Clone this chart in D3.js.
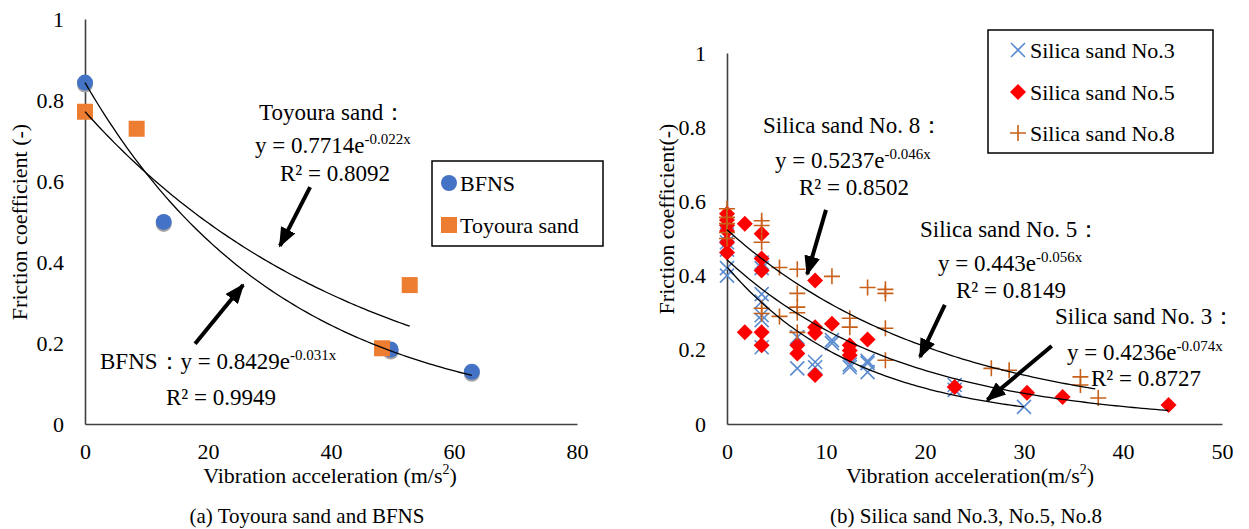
<!DOCTYPE html>
<html>
<head>
<meta charset="utf-8">
<script src="https://cdn.jsdelivr.net/npm/d3@7"></script>
<style>
  body { margin: 0; background: #fff; }
</style>
</head>
<body>
<svg id="chart" width="1249" height="529"></svg>
<script>
// (a) Toyoura sand and BFNS
var bfnsX = [0, 12.8, 49.7, 62.9];
var bfnsY = [0.843, 0.499, 0.184, 0.129];
var toyX = [0, 8.4, 48.3, 52.8];
var toyY = [0.771, 0.729, 0.187, 0.343];
var leftXTicks = [0, 20, 40, 60, 80];

// (b) Silica sand No.3, No.5, No.8
var s3X = [0, 0, 0, 0, 0, 3.5, 3.5, 3.5, 3.5, 3.5, 3.5, 3.5, 7.1, 7.1, 8.9, 8.9, 10.6, 10.6, 12.4, 12.4, 14.2, 14.2, 14.2, 23, 23, 30];
var s3Y = [0.51, 0.49, 0.42, 0.40, 0.47, 0.435, 0.42, 0.35, 0.33, 0.293, 0.28, 0.207, 0.234, 0.15, 0.167, 0.153, 0.226, 0.218, 0.16, 0.153, 0.17, 0.164, 0.14, 0.105, 0.092, 0.046];
var s5X = [0, 0, 0, 0, 0, 0, 1.8, 1.8, 3.5, 3.5, 3.5, 3.5, 3.5, 7.1, 7.1, 8.9, 8.9, 8.9, 8.9, 10.6, 12.4, 12.4, 12.4, 14.2, 23, 30.3, 33.9, 44.6];
var s5Y = [0.567, 0.55, 0.535, 0.52, 0.49, 0.462, 0.54, 0.247, 0.513, 0.446, 0.414, 0.247, 0.212, 0.212, 0.19, 0.387, 0.261, 0.245, 0.132, 0.27, 0.212, 0.198, 0.185, 0.228, 0.10, 0.084, 0.073, 0.051];
var s8X = [0, 0, 0, 0, 0, 3.5, 3.5, 3.5, 3.5, 3.5, 5.3, 5.3, 7.1, 7.1, 7.1, 7.1, 7.1, 10.6, 12.4, 12.4, 14.2, 16, 16, 16, 16, 26.7, 28.5, 35.7, 35.7, 37.5];
var s8Y = [0.58, 0.557, 0.54, 0.516, 0.50, 0.548, 0.535, 0.49, 0.312, 0.298, 0.422, 0.29, 0.417, 0.352, 0.315, 0.30, 0.247, 0.398, 0.285, 0.261, 0.368, 0.363, 0.352, 0.258, 0.172, 0.15, 0.145, 0.127, 0.105, 0.07];
var rightXTicks = [0, 10, 20, 30, 40, 50];

var yTicks = [0, 0.2, 0.4, 0.6, 0.8, 1];

// trend line fits (a*exp(b*x)) and x ranges
var fitBfns = {a: 0.8429, b: -0.031, x0: 0, x1: 62.9};
var fitToy = {a: 0.7714, b: -0.022, x0: 0, x1: 52.8};
var fit3 = {a: 0.4236, b: -0.074, x0: 0, x1: 30};
var fit5 = {a: 0.443, b: -0.056, x0: 0, x1: 44.6};
var fit8 = {a: 0.5237, b: -0.046, x0: 0, x1: 37.2};

var FONT = "'Liberation Serif', 'Times New Roman', Times, serif";

var svg = d3.select("#chart").style("font-family", FONT);
svg.append("rect").attr("width", 1249).attr("height", 529).attr("fill", "#fff");

var defs = svg.append("defs");
defs.append("marker").attr("id", "ahead")
    .attr("markerUnits", "userSpaceOnUse")
    .attr("viewBox", "0 0 20 16").attr("refX", 18).attr("refY", 8)
    .attr("markerWidth", 20).attr("markerHeight", 16)
    .attr("orient", "auto")
  .append("path").attr("d", "M0,0 L20,8 L0,16 Z").attr("fill", "#000");

var xL = d3.scaleLinear().domain([0, 80]).range([85, 577]);
var yL = d3.scaleLinear().domain([0, 1]).range([424, 19]);
var xR = d3.scaleLinear().domain([0, 50]).range([727, 1222]);
var yR = d3.scaleLinear().domain([0, 1]).range([424, 53]);

function drawAxes(x, y, xt) {
    var gx = svg.append("g").attr("transform", "translate(0," + y(0) + ")")
        .call(d3.axisBottom(x).tickValues(xt).tickSize(0).tickPadding(19).tickFormat(function (d) { return d; }));
    var gy = svg.append("g").attr("transform", "translate(" + x(0) + ",0)")
        .call(d3.axisLeft(y).tickValues(yTicks).tickSize(0).tickPadding(21).tickFormat(function (d) { return d; }));
    [gx, gy].forEach(function (g) {
        g.attr("font-family", FONT).attr("font-size", 22);
        g.selectAll("text").style("font-family", FONT).style("font-size", "22px").attr("fill", "#000");
        g.select(".domain").attr("stroke", "#404040").attr("stroke-width", 1.6);
    });
}
drawAxes(xL, yL, leftXTicks);
drawAxes(xR, yR, rightXTicks);

function trend(f, x, y) {
    var pts = d3.range(0, 101).map(function (i) {
        var xv = f.x0 + (f.x1 - f.x0) * i / 100;
        return [x(xv), y(f.a * Math.exp(f.b * xv))];
    });
    svg.append("path").attr("d", d3.line()(pts))
        .attr("fill", "none").attr("stroke", "#000").attr("stroke-width", 1.3);
}

function zip(xs, ys) { return xs.map(function (v, i) { return [v, ys[i]]; }); }

// left markers (with grey shadow)
var gL = svg.append("g");
zip(bfnsX, bfnsY).forEach(function (p) {
    gL.append("circle").attr("cx", xL(p[0])).attr("cy", yL(p[1]) + 2).attr("r", 8).attr("fill", "#a5a5a5");
    gL.append("circle").attr("cx", xL(p[0])).attr("cy", yL(p[1])).attr("r", 8).attr("fill", "#4472C4");
});
zip(toyX, toyY).forEach(function (p) {
    gL.append("rect").attr("x", xL(p[0]) - 8).attr("y", yL(p[1]) - 8).attr("width", 16).attr("height", 16).attr("fill", "#ED7D31");
});
trend(fitBfns, xL, yL);
trend(fitToy, xL, yL);

// right markers
var sym3 = function (g, cx, cy) {
    g.append("path").attr("d", "M" + (cx - 7) + "," + (cy - 7) + "L" + (cx + 7) + "," + (cy + 7) + "M" + (cx - 7) + "," + (cy + 7) + "L" + (cx + 7) + "," + (cy - 7))
        .attr("stroke", "#5B8BCF").attr("stroke-width", 1.6).attr("fill", "none");
};
var sym5 = function (g, cx, cy) {
    g.append("path").attr("d", "M" + cx + "," + (cy - 8) + "L" + (cx + 8) + "," + cy + "L" + cx + "," + (cy + 8) + "L" + (cx - 8) + "," + cy + "Z")
        .attr("fill", "#FF0000");
};
var sym8 = function (g, cx, cy) {
    g.append("path").attr("d", "M" + (cx - 8) + "," + cy + "L" + (cx + 8) + "," + cy + "M" + cx + "," + (cy - 8) + "L" + cx + "," + (cy + 8))
        .attr("stroke", "#C8601A").attr("stroke-width", 1.6).attr("fill", "none");
};
var gR = svg.append("g");
zip(s3X, s3Y).forEach(function (p) { sym3(gR, xR(p[0]), yR(p[1])); });
zip(s5X, s5Y).forEach(function (p) { sym5(gR, xR(p[0]), yR(p[1])); });
zip(s8X, s8Y).forEach(function (p) { sym8(gR, xR(p[0]), yR(p[1])); });
trend(fit8, xR, yR);
trend(fit5, xR, yR);
trend(fit3, xR, yR);

// arrows (data coordinates: tail -> tip)
function arrow(x, y, t, h) {
    svg.append("line")
        .attr("x1", x(t[0])).attr("y1", y(t[1])).attr("x2", x(h[0])).attr("y2", y(h[1]))
        .attr("stroke", "#000").attr("stroke-width", 4).attr("marker-end", "url(#ahead)");
}
arrow(xL, yL, [36.6, 0.585], [31.7, 0.44]);
arrow(xL, yL, [17.9, 0.198], [25.7, 0.343]);
arrow(xR, yR, [10.0, 0.577], [8.1, 0.404]);
arrow(xR, yR, [22.0, 0.321], [19.5, 0.181]);
arrow(xR, yR, [32.8, 0.21], [26.3, 0.065]);

// text helpers
function label(x, y, s, size, anchor) {
    return svg.append("text").attr("x", x).attr("y", y)
        .attr("text-anchor", anchor || "start")
        .style("font-family", FONT).style("font-size", (size || 23) + "px").text(s);
}
function eq(x, y, pre, exp) {
    var t = svg.append("text").attr("x", x).attr("y", y)
        .style("font-family", FONT).style("font-size", "23px");
    t.append("tspan").text(pre);
    t.append("tspan").attr("dy", -9).style("font-size", "15px").text(exp);
    return t;
}

// left annotations
label(259, 120, "Toyoura sand：");
eq(255, 153, "y = 0.7714e", "-0.022x");
label(280, 181, "R² = 0.8092");
eq(100, 369, "BFNS：y = 0.8429e", "-0.031x");
label(166, 405, "R² = 0.9949");

// right annotations
label(763, 133, "Silica sand No. 8：");
eq(775, 168, "y = 0.5237e", "-0.046x");
label(799, 195, "R² = 0.8502");
label(920, 237, "Silica sand No. 5：");
eq(938, 271, "y = 0.443e", "-0.056x");
label(956, 298, "R² = 0.8149");
label(1055, 324, "Silica sand No. 3：");
eq(1067, 360, "y = 0.4236e", "-0.074x");
label(1091, 386, "R² = 0.8727");

// left legend
svg.append("rect").attr("x", 432).attr("y", 161).attr("width", 171).attr("height", 85)
    .attr("fill", "#fff").attr("stroke", "#000").attr("stroke-width", 1.5);
svg.append("circle").attr("cx", 449).attr("cy", 183).attr("r", 8).attr("fill", "#4472C4");
label(460, 191, "BFNS", 22);
svg.append("rect").attr("x", 441).attr("y", 217).attr("width", 16).attr("height", 16).attr("fill", "#ED7D31");
label(460, 233, "Toyoura sand", 22);

// right legend
svg.append("rect").attr("x", 988).attr("y", 30).attr("width", 225).attr("height", 123)
    .attr("fill", "#fff").attr("stroke", "#000").attr("stroke-width", 1.5);
var gLeg = svg.append("g");
sym3(gLeg, 1018, 50);
label(1030, 58, "Silica sand No.3", 22);
sym5(gLeg, 1018, 92);
label(1030, 100, "Silica sand No.5", 22);
sym8(gLeg, 1018, 133);
label(1030, 141, "Silica sand No.8", 22);

// axis titles
function xTitle(cx, pre) {
    var t = svg.append("text").attr("x", cx).attr("y", 483).attr("text-anchor", "middle")
        .style("font-family", FONT).style("font-size", "22px");
    t.append("tspan").text(pre);
    t.append("tspan").attr("dy", -9).style("font-size", "14px").text("2");
    t.append("tspan").attr("dy", 9).text(")");
}
xTitle(330, "Vibration acceleration (m/s");
xTitle(970, "Vibration acceleration(m/s");

svg.append("text").attr("transform", "translate(27,222) rotate(-90)").attr("text-anchor", "middle")
    .style("font-family", FONT).style("font-size", "22px").text("Friction coefficient (-)");
svg.append("text").attr("transform", "translate(674,219) rotate(-90)").attr("text-anchor", "middle")
    .style("font-family", FONT).style("font-size", "22px").text("Friction coefficient(-)");

// captions
label(307, 523, "(a) Toyoura sand and BFNS", 21, "middle");
label(966, 523, "(b) Silica sand No.3, No.5, No.8", 21, "middle");
</script>
</body>
</html>
